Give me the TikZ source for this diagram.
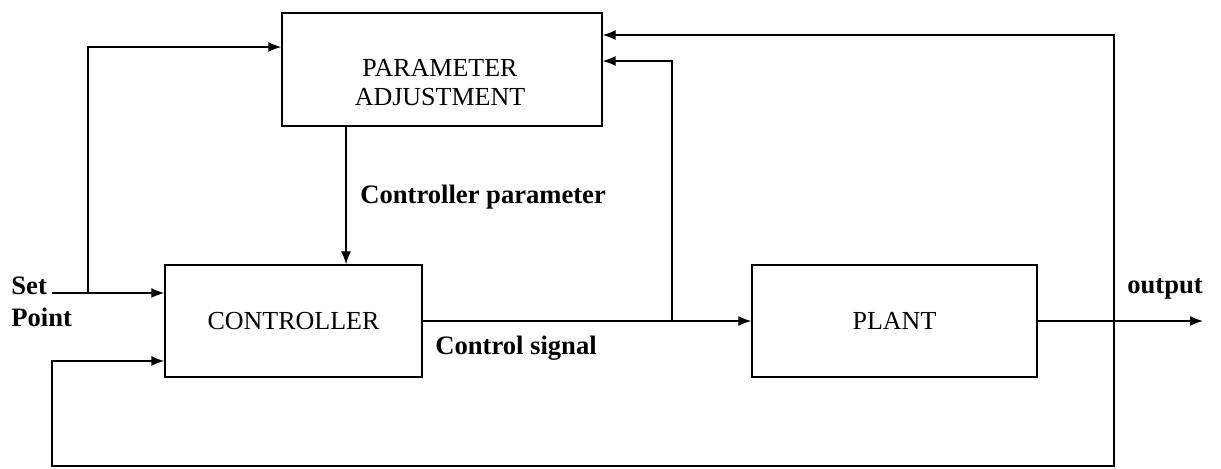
\documentclass[tikz,border=0pt]{standalone}
\usepackage{fontspec}
\setmainfont{Liberation Serif}
\usetikzlibrary{arrows.meta}
\tikzset{
  block/.style={draw, line width=0.7pt, inner sep=0pt},
  sig/.style={line width=0.7pt, -{Latex[length=6.5pt,width=5pt]}},
  lbl/.style={font=\fontsize{13.3}{16}\selectfont\bfseries, inner sep=0pt},
  btxt/.style={font=\fontsize{13}{14.5}\selectfont, align=center, inner sep=0pt}
}
\begin{document}
\begin{tikzpicture}[x=0.5pt, y=-0.5pt]
    \useasboundingbox (0,0) rectangle (1221,468);
    % blocks
    \node[block, minimum width=160pt, minimum height=56.5pt] (pa) at (442,69.5) {};
    \node[btxt] (patxt) at (440,83) {PARAMETER\\ADJUSTMENT};
    \node[block, btxt, minimum width=128.5pt, minimum height=56pt] (ctrl) at (293.5,321) {CONTROLLER};
    \node[block, btxt, minimum width=142.5pt, minimum height=56pt] (plant) at (894.5,321) {PLANT};
    % labels
    \node[lbl, anchor=west, align=left] (sp) at (11,302) {Set\\Point};
    \node[lbl, anchor=base] (outlbl) at (1165,293) {output};
    \node[lbl, anchor=base west] (cplbl) at (360,203) {Controller parameter};
    \node[lbl, anchor=base west] (cslbl) at (435,354) {Control signal};
    % branch points
    \coordinate (spin) at (52,293);
    \coordinate (b1) at (88,293);
    \coordinate (b2) at (672,321);
    \coordinate (b3) at (1114,321);
    \coordinate (out) at (1203,321);
    \coordinate (fb) at (52,466);
    % connectors
    \draw[sig] (spin) -- (ctrl.west |- spin);
    \draw[sig] (b1) |- ([yshift=11.25pt]pa.west);
    \draw[sig] ([xshift=-48pt]pa.south) -- ([xshift=-48pt]pa.south |- ctrl.north);
    \draw[sig] (ctrl.east) -- (plant.west);
    \draw[sig] (b2) |- ([yshift=4.25pt]pa.east);
    \draw[sig] (plant.east) -- (out);
    \draw[sig] (b3) |- ([yshift=17.25pt]pa.east);
    \draw[sig] (b3) |- (fb) |- ([yshift=-20pt]ctrl.west);
\end{tikzpicture}
\end{document}
